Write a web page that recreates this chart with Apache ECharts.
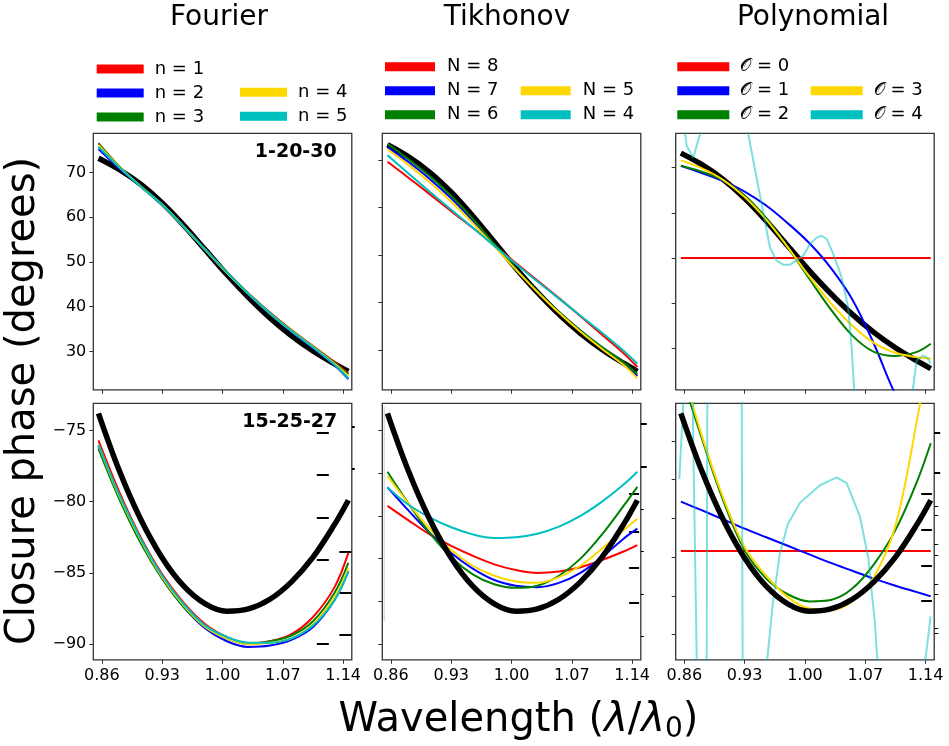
<!DOCTYPE html>
<html><head><meta charset="utf-8">
<script src="https://cdn.jsdelivr.net/npm/echarts@6/dist/echarts.min.js"></script>
<style>html,body{margin:0;padding:0;background:#fff}#c{width:949px;height:746px}</style>
</head><body><div id="c"></div>
<script>
// ---------------- data ----------------
const xs = [0.856, 0.88, 0.905, 0.93, 0.955, 0.98, 1.005, 1.03, 1.055, 1.08, 1.105, 1.13, 1.146];
const xsEnds = [0.856, 1.146];
const xTicks = [0.86, 0.93, 1.00, 1.07, 1.14];

const trueTop    = [73.2, 70.7, 67.4, 63.2, 58.2, 52.7, 47.2, 42.1, 37.5, 33.5, 30.1, 27.2, 25.5];
const trueBottom = [-73.8, -77.8, -81.24, -83.95, -85.93, -87.17, -87.69, -87.53, -86.85, -85.63, -83.9, -81.6, -79.9];

// Fourier, baseline 1-20-30
const fourierTopN1 = [76.6, 71.4, 67.0, 62.8, 57.9, 52.8, 47.7, 43.0, 38.7, 34.8, 31.2, 27.6, 25.0];
const fourierTopN2 = [75.3, 71.0, 66.9, 62.8, 57.9, 52.7, 47.5, 42.8, 38.4, 34.4, 30.8, 26.9, 23.8];
const fourierTopN3 = [76.5, 71.4, 67.0, 62.8, 57.8, 52.7, 47.6, 42.9, 38.6, 34.7, 31.1, 27.4, 24.8];
const fourierTopN4 = [76.2, 71.3, 66.9, 62.8, 57.9, 52.7, 47.6, 42.9, 38.5, 34.6, 31.0, 27.2, 24.5];
const fourierTopN5 = [75.8, 71.2, 66.9, 62.8, 57.9, 52.8, 47.7, 42.9, 38.5, 34.5, 30.9, 27.0, 24.0];
// Fourier, baseline 15-25-27
const fourierBotN1 = [-75.7, -79.3, -82.5, -85.1, -87.1, -88.6, -89.5, -89.95, -89.8, -89.3, -88.1, -86.0, -83.6];
const fourierBotN2 = [-76.1, -79.7, -82.8, -85.4, -87.4, -88.9, -89.8, -90.2, -90.1, -89.7, -88.8, -86.9, -84.9];
const fourierBotN3 = [-76.3, -79.8, -82.9, -85.4, -87.4, -88.8, -89.6, -90.0, -89.8, -89.4, -88.4, -86.4, -84.3];
const fourierBotN4 = [-76.0, -79.6, -82.7, -85.3, -87.3, -88.8, -89.6, -90.0, -89.9, -89.6, -88.6, -86.7, -84.7];
const fourierBotN5 = [-76.0, -79.5, -82.6, -85.2, -87.2, -88.7, -89.5, -89.9, -89.9, -89.6, -88.7, -86.9, -84.9];

// Tikhonov
const tikhTopN8 = [69.6, 66.3, 62.8, 59.2, 55.7, 52.0, 48.3, 44.6, 40.9, 37.1, 33.2, 29.3, 26.4];
const tikhTopN7 = [72.7, 69.6, 66.0, 61.9, 57.2, 52.1, 47.0, 42.3, 38.0, 34.1, 30.5, 27.1, 24.5];
const tikhTopN6 = [73.4, 70.2, 66.6, 62.4, 57.6, 52.3, 47.1, 42.3, 38.0, 34.1, 30.6, 27.4, 24.9];
const tikhTopN5 = [72.25, 69.0, 65.3, 61.2, 56.7, 51.8, 46.9, 42.2, 37.8, 33.8, 30.2, 26.8, 24.0];
const tikhTopN4 = [71.0, 67.2, 63.3, 59.5, 55.7, 51.9, 48.1, 44.4, 40.8, 37.2, 33.6, 29.8, 27.1];
const tikhBotN8 = [-80.3, -81.3, -82.3, -83.1, -83.8, -84.4, -84.8, -85.0, -84.9, -84.6, -84.1, -83.5, -83.05];
const tikhBotN7 = [-79.0, -80.6, -82.2, -83.6, -84.7, -85.5, -85.9, -86.0, -85.7, -85.0, -83.9, -82.6, -81.9];
const tikhBotN6 = [-77.9, -80.1, -82.2, -83.9, -85.1, -85.8, -86.05, -85.9, -85.2, -84.0, -82.3, -80.3, -78.96];
const tikhBotN5 = [-78.2, -80.1, -81.9, -83.4, -84.5, -85.2, -85.6, -85.7, -85.3, -84.5, -83.3, -82.0, -81.2];
const tikhBotN4 = [-79.0, -80.2, -81.1, -81.8, -82.3, -82.55, -82.5, -82.25, -81.75, -81.0, -80.0, -78.8, -77.9];
// faint grey stroke near the left edge of the lower Tikhonov panel
const tikhGhostX = [0.8522, 0.8522];
const tikhGhost  = [-73.34, -88.39];

// Polynomial
const polyTopO0 = [50.0, 50.0];
const polyTopO1 = [70.4, 68.8, 67.0, 64.7, 61.6, 57.7, 53.3, 47.8, 40.8, 31.0, 19.8, 12.0, 8.0];
const polyTopO2 = [70.4, 69.1, 67.2, 63.8, 58.8, 52.4, 45.4, 38.6, 32.8, 29.2, 28.3, 29.2, 31.0];
const polyTopO3 = [71.6, 69.9, 67.3, 63.5, 58.5, 52.4, 45.9, 40.0, 35.0, 31.2, 29.0, 28.0, 27.7];
const polyTopO4x = [0.856, 0.8628, 0.8704, 0.8782, 0.886, 0.905, 0.925, 0.9342, 0.9594, 0.967, 0.9748, 0.9826, 0.990, 0.998, 1.0058, 1.0136, 1.0194, 1.0252, 1.0328, 1.0426, 1.050, 1.0542, 1.0569, 1.065, 1.09, 1.11, 1.1256, 1.1296, 1.1372, 1.143, 1.1458];
const polyTopO4  = [84.0, 74.8, 72.2, 77.4, 84.0, 95.0, 88.0, 77.4, 52.3, 49.4, 48.5, 48.5, 49.4, 50.5, 53.1, 54.5, 54.9, 54.2, 50.9, 45.7, 39.1, 30.2, 21.4, 8.0, 0.0, 8.0, 21.4, 27.3, 28.4, 27.7, 26.6];
const polyBotO0 = [-83.46, -83.46];
const polyBotO1 = [-80.0, -80.6, -81.25, -81.9, -82.5, -83.1, -83.7, -84.3, -84.85, -85.4, -85.9, -86.35, -86.65];
const polyBotO2 = [-71.0, -75.5, -79.9, -83.4, -85.4, -86.5, -87.0, -86.9, -86.1, -84.4, -82.0, -78.6, -75.9];
const polyBotO3 = [-70.3, -75.3, -79.7, -83.2, -85.2, -86.7, -87.5, -87.6, -87.0, -85.3, -81.7, -74.3, -68.5];
const polyBotO4x = [0.8542, 0.8588, 0.864, 0.8697, 0.8744, 0.880, 0.884, 0.886, 0.8867, 0.890, 0.91, 0.925, 0.9266, 0.9277, 0.935, 0.95, 0.9563, 0.962, 0.971, 0.98, 0.994, 1.0174, 1.0368, 1.0484, 1.0638, 1.0734, 1.0812, 1.0832, 1.095, 1.12, 1.1412, 1.1458];
const polyBotO4  = [-78.4, -73.1, -66.0, -73.1, -91.1, -105, -105, -91.1, -73.1, -60, -55, -60, -73.1, -91.1, -110, -105, -91.1, -87.5, -83.6, -81.6, -80.1, -78.85, -78.3, -78.7, -81.06, -83.9, -88.5, -90.4, -100, -100, -90.4, -88.05];

// tick values
const yTicksTop = [30, 40, 50, 60, 70];
const yTicksFourierBot = [-90, -85, -80, -75];
const yTicksTikhBot = [-90, -87, -84, -81, -78, -75];
const yTicksPolyBot = [-89.33, -86.62, -83.91, -81.18, -78.45, -75.74];
// stray right-hand tick marks in the lower panels
const fbOuter = [-74.74, -77.70];
const fbInner = [-83.49, -86.36, -89.33];
const fbFar   = [-75.16, -78.12, -81.11, -84.07, -89.98];
const tbOuter = [-74.5, -77.54];
const tbSmall = [-80.57, -83.49, -86.52, -89.44];
const tbInner = [-79.47, -82.09, -84.61, -87.13];
const pbOuter = [-75.16, -77.96];
const pbSmall = [-80.29, -80.99, -83.02, -83.77, -85.78, -86.48, -88.86, -89.21];
const pbInner = [-79.45, -81.97, -84.47, -86.99];

// labels
const colTitles = ['Fourier', 'Tikhonov', 'Polynomial'];
const fourierNames = ['n = 1', 'n = 2', 'n = 3', 'n = 4', 'n = 5'];
const tikhNames = ['N = 8', 'N = 7', 'N = 6', 'N = 5', 'N = 4'];
const polyNames = ['\u{1D4AA} = 0', '\u{1D4AA} = 1', '\u{1D4AA} = 2', '\u{1D4AA} = 3', '\u{1D4AA} = 4'];
const baselineLabels = ['1-20-30', '15-25-27'];

// ---------------- styling / layout ----------------
const FONT = 'DejaVu Sans';
const C = ['#ff0000', '#0000ff', '#008000', '#ffd700', '#00bfbf'];
const colLeft = [93.3, 382.3, 675.7];
const rowTop = [133.3, 403.3];
const GW = 258.5, GH = 256.5;
const yRange = [[[21.4, 78.8], [21.6, 75.6], [20.8, 77.6]], [[-91.1, -73.1], [-91.1, -73.1], [-91.1, -73.1]]];
const yTickSets = [[yTicksTop, yTicksTop, yTicksTop], [yTicksFourierBot, yTicksTikhBot, yTicksPolyBot]];

const pts = (xa, ya) => xa.map((x, i) => [x, ya[i]]);

const grids = [], xAxes = [], yAxes = [], series = [];
const minus = v => String(Math.round(v)).replace('-', '\u2212');

for (let r = 0; r < 2; r++) {
  for (let c = 0; c < 3; c++) {
    const g = r * 3 + c;
    grids.push({left: colLeft[c], top: rowTop[r], width: GW, height: GH, show: true,
      borderColor: '#333', borderWidth: 1.3, backgroundColor: 'transparent'});
    xAxes.push({type: 'value', gridIndex: g, min: 0.85, max: 1.15,
      axisLine: {show: false}, splitLine: {show: false},
      axisTick: {show: true, length: 4, customValues: xTicks, lineStyle: {color: '#333', width: 1}},
      axisLabel: {show: r === 1, customValues: xTicks, formatter: v => v.toFixed(2),
        color: '#000', fontFamily: FONT, fontSize: 16, margin: 8}});
    yAxes.push({type: 'value', gridIndex: g, min: yRange[r][c][0], max: yRange[r][c][1],
      axisLine: {show: false}, splitLine: {show: false},
      axisTick: {show: true, length: 4, customValues: yTickSets[r][c], lineStyle: {color: '#333', width: 1}},
      axisLabel: {show: c === 0, customValues: yTickSets[r][c], formatter: minus,
        color: '#000', fontFamily: FONT, fontSize: 16, margin: 7}});
  }
}

function extraAxis(g, vals, offset, length, width) {
  const r = Math.floor(g / 3), c = g % 3;
  yAxes.push({type: 'value', gridIndex: g, position: 'right', offset: offset,
    min: yRange[r][c][0], max: yRange[r][c][1],
    axisLine: {show: false}, splitLine: {show: false}, axisLabel: {show: false},
    axisTick: {show: true, inside: false, length: length, customValues: vals, lineStyle: {color: '#000', width: width}}});
}
extraAxis(3, fbOuter, 0, 3, 2);
extraAxis(3, fbInner, -12.4, 12, 2);
extraAxis(3, fbFar, -35, 12, 2);
extraAxis(4, tbOuter, 0, 6, 2);
extraAxis(4, tbSmall, 0, 3, 1);
extraAxis(4, tbInner, -11.7, 10, 2);
extraAxis(5, pbOuter, 0, 6, 2);
extraAxis(5, pbSmall, 0, 4, 1);
extraAxis(5, pbInner, -13, 10.7, 2);

function addLine(g, name, color, data, width, z, opts) {
  series.push(Object.assign({type: 'line', name: name, xAxisIndex: g, yAxisIndex: g,
    data: data, showSymbol: false, symbol: 'none', smooth: 0.35, clip: true, z: z,
    color: color, lineStyle: {color: color, width: width}, emphasis: {disabled: true},
    silent: true, animation: false}, opts || {}));
}
const BLACKW = 5.5, LW = 2;
// top row: truth drawn first
addLine(0, 'truth', '#000', pts(xs, trueTop), BLACKW, 2);
[fourierTopN1, fourierTopN2, fourierTopN3, fourierTopN4, fourierTopN5].forEach((d, i) => addLine(0, fourierNames[i], C[i], pts(xs, d), LW, 3));
addLine(1, 'truth', '#000', pts(xs, trueTop), BLACKW, 2);
[tikhTopN8, tikhTopN7, tikhTopN6, tikhTopN5, tikhTopN4].forEach((d, i) => addLine(1, tikhNames[i], C[i], pts(xs, d), LW, 3));
addLine(2, 'truth', '#000', pts(xs, trueTop), BLACKW, 2);
addLine(2, polyNames[0], C[0], pts(xsEnds, polyTopO0), LW, 3, {smooth: false});
[polyTopO1, polyTopO2, polyTopO3].forEach((d, i) => addLine(2, polyNames[i + 1], C[i + 1], pts(xs, d), LW, 3));
addLine(2, polyNames[4], C[4], pts(polyTopO4x, polyTopO4), LW, 3, {smooth: false, lineStyle: {color: 'rgba(0,191,191,0.5)', width: LW}});
// bottom row: truth drawn last
[fourierBotN1, fourierBotN2, fourierBotN3, fourierBotN4, fourierBotN5].forEach((d, i) => addLine(3, fourierNames[i], C[i], pts(xs, d), LW, 2));
addLine(3, 'truth', '#000', pts(xs, trueBottom), BLACKW, 3);
addLine(4, 'ghost', '#cccccc', pts(tikhGhostX, tikhGhost), 1, 1, {smooth: false});
[tikhBotN8, tikhBotN7, tikhBotN6, tikhBotN5, tikhBotN4].forEach((d, i) => addLine(4, tikhNames[i], C[i], pts(xs, d), LW, 2));
addLine(4, 'truth', '#000', pts(xs, trueBottom), BLACKW, 3);
addLine(5, polyNames[0], C[0], pts(xsEnds, polyBotO0), LW, 2, {smooth: false});
[polyBotO1, polyBotO2, polyBotO3].forEach((d, i) => addLine(5, polyNames[i + 1], C[i + 1], pts(xs, d), LW, 2));
addLine(5, polyNames[4], C[4], pts(polyBotO4x, polyBotO4), LW, 2, {smooth: false, lineStyle: {color: 'rgba(0,191,191,0.5)', width: LW}});
addLine(5, 'truth', '#000', pts(xs, trueBottom), BLACKW, 3);

function legend(names, left, top, iw, padL) {
  return {orient: 'vertical', left: left, top: top, padding: 0, itemGap: 0,
    itemWidth: iw, itemHeight: 9, icon: 'rect', selectedMode: false, data: names,
    textStyle: {fontFamily: FONT, fontSize: 18, color: '#000', lineHeight: 24, padding: [0, 0, 0, padL]}};
}
const legends = [
  legend(fourierNames.slice(0, 3), 96.7, 57, 47, 6),
  legend(fourierNames.slice(3), 240, 80.3, 47, 6),
  legend(tikhNames.slice(0, 3), 385, 54.7, 50, 7),
  legend(tikhNames.slice(3), 520.7, 78.7, 50, 7),
  legend(polyNames.slice(0, 3), 677.3, 54.7, 52, 6),
  legend(polyNames.slice(3), 810.7, 78.7, 52, 6)
];

const titleX = [219, 507, 813];
const graphic = [];
colTitles.forEach((t, i) => graphic.push({type: 'text', x: titleX[i], y: 18,
  style: {text: t, fontFamily: FONT, fontSize: 28, fill: '#000', align: 'center', verticalAlign: 'middle'}}));
graphic.push({type: 'text', x: 336.7, y: 151.7, z: 10,
  style: {text: baselineLabels[0], fontFamily: FONT, fontWeight: 'bold', fontSize: 19, fill: '#000', align: 'right', verticalAlign: 'middle'}});
graphic.push({type: 'text', x: 337.3, y: 422, z: 10,
  style: {text: baselineLabels[1], fontFamily: FONT, fontWeight: 'bold', fontSize: 19, fill: '#000', align: 'right', verticalAlign: 'middle'}});
graphic.push({type: 'text', x: 24, y: 401, rotation: Math.PI / 2,
  style: {text: 'Closure phase (degrees)', fontFamily: FONT, fontSize: 40, fill: '#000', align: 'center', verticalAlign: 'middle'}});
graphic.push({type: 'text', x: 518.5, y: 721,
  style: {text: '{a|Wavelength (}{i|\u03BB}{a|/}{i|\u03BB}{s|0}{a|)}', align: 'center', verticalAlign: 'middle',
    rich: {a: {fontFamily: FONT, fontSize: 40, fill: '#000'},
           i: {fontFamily: FONT, fontSize: 40, fontStyle: 'italic', fill: '#000'},
           s: {fontFamily: FONT, fontSize: 28, fill: '#000', padding: [17, 0, 0, 0]}}}});

const chart = echarts.init(document.getElementById('c'), null, {renderer: 'canvas', width: 949, height: 746});
chart.setOption({animation: false, backgroundColor: '#fff', grid: grids, xAxis: xAxes, yAxis: yAxes,
  series: series, legend: legends, graphic: graphic});
</script></body></html>
